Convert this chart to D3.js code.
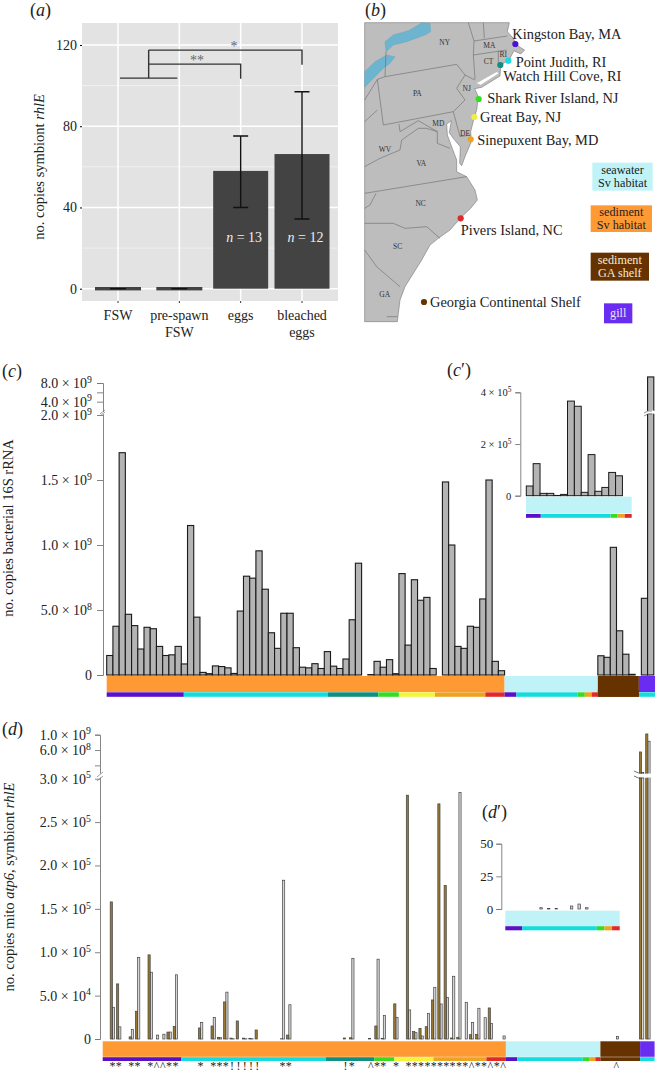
<!DOCTYPE html>
<html>
<head>
<meta charset="utf-8">
<title>Symbiont and bacterial copy numbers</title>
<script src="https://d3js.org/d3.v7.min.js"></script>
<style>
  body { margin: 0; background: #fff; }
  svg { display: block; }
  text { font-family: "Liberation Serif", serif; fill: #222; }
</style>
</head>
<body>
<script>
// panel a
var aCategories = ["FSW", "pre-spawn FSW", "eggs", "bleached eggs"];
var aMeans = [0, 0, 58, 66.3];
var aErrHigh = [0, 0, 75.2, 97];
var aErrLow = [0, 0, 40, 34.3];
var aSamples = [null, null, 13, 12];
var aTicks = [0, 40, 80, 120];
var aMinor = [20, 60, 100];

// panel b, map outlines in map units (3 units = 1px)
var mapLand = [[44,68],[478,68],[472,95],[490,115],[497,130],[510,142],[524,150],[512,162],[492,152],[478,178],[452,196],[450,228],[395,262],[374,266],[385,290],[380,330],[372,355],[362,395],[364,425],[345,470],[335,497],[329,490],[331,440],[312,418],[298,398],[304,362],[290,372],[292,405],[303,435],[320,480],[320,515],[350,530],[375,570],[382,600],[362,625],[335,650],[300,690],[265,715],[240,735],[215,780],[165,860],[150,900],[142,965],[44,965]];
var mapSliver = [[380,250],[440,216],[446,220],[392,254]];
var mapLakes = [
  [[105,125],[130,105],[175,92],[205,75],[215,68],[240,70],[242,95],[225,105],[170,125],[130,135],[108,155]],
  [[44,215],[75,185],[110,165],[135,170],[120,190],[100,205],[44,262]]
];
var mapBorders = [
  [[82,238],[105,230],[320,193],[345,225],[320,265],[345,300],[310,335],[100,375],[82,238]],
  [[105,230],[108,155]],
  [[355,68],[372,123],[370,165],[375,238]],
  [[400,68],[403,115]],
  [[372,123],[472,108]],
  [[370,165],[470,150]],
  [[445,152],[445,200]],
  [[345,225],[375,240]],
  [[82,330],[44,365]],
  [[82,238],[44,300]],
  [[147,372],[150,395],[205,362],[262,395],[262,430],[300,445]],
  [[310,335],[330,410],[362,405]],
  [[44,500],[90,475],[150,450],[155,420],[205,385],[230,385],[262,395]],
  [[44,580],[350,530]],
  [[78,580],[60,615],[44,625]],
  [[44,670],[130,670],[165,685],[230,680],[270,715]],
  [[44,750],[80,800],[150,860]],
  [[110,950],[142,950]]
];
var stateNames = ["NY","MA","CT","RI","PA","NJ","MD","DE","WV","VA","NC","SC","GA"];
var stateX = [284,418,416,460,202,350,265,345,105,214,212,143,104];
var stateY = [128,136,183,163,280,265,370,400,447,489,611,738,883];
var siteNames = ["Kingston Bay, MA","Point Judith, RI","Watch Hill Cove, RI","Shark River Island, NJ","Great Bay, NJ","Sinepuxent Bay, MD","Pivers Island, NC","Georgia Continental Shelf"];
var siteX = [496,475,451,386,373,362,332,222];
var siteY = [132,182,195,297,351,418,655,906];
var siteLabelX = [487,497,460,412,390,382,332,240];
var siteLabelY = [102,188,228,296,352,420,691,908];
var siteColors = ["#4b10d2","#1fd8e2","#0f8f80","#35dd22","#eeee44","#eea322","#dd2a2a","#663300"];
var legendLines = [["seawater","Sv habitat"],["sediment","Sv habitat"],["sediment","GA shelf"],["gill"]];
var legendX0 = [727,722,722,762];
var legendX1 = [908,906,897,847];
var legendY0 = [488,616,758,910];
var legendY1 = [572,696,842,970];
var legendFill = ["#bff3f8","#ff9933","#663300","#6a2cf0"];
var legendText = ["#222","#222","#f3e9d8","#e9e2ff"];

// panel c, 16S copies in units of 1e8
var rrna = [1.5,3.75,17.1,4.67,3.8,2.0,3.67,3.56,2.2,1.5,1.55,2.2,.85,11.5,4.45,.2,.1,.7,.65,.55,.12,4.92,7.6,7.45,9.55,6.6,3.25,2.05,4.75,4.75,2.1,.6,.55,.87,.5,1.8,.68,.5,1.23,4.25,8.6,0,.03,1.05,.6,1.18,.1,7.8,2.3,7.33,5.75,5.97,.5,0,14.85,10,2.2,2.05,3.75,3.67,5.85,15,1.05,.33,0,0,0,0,0,0,0,0,0,0,0,0,0,0,0,1.48,1.36,9.82,3.4,1.6,.05,null,5.9,93];
var cTicks = [0,5e8,1e9,1.5e9,2e9,4e9,6e9,8e9];
var cHidden = [6e9];
// inset c', units of 1e4
var rrnaInset = [3.75,12.4,.9,.9,.1,.5,36.6,34.6,1.3,15.9,1.7,3.2,9,7.7,0];
var cInsetTicks = [0,2e5,4e5];

// panel d, atp6 and rhlE copies in units of 1e4
var atp6 = [0,15.8,6.35,0,.25,3.2,0,9.7,0,0,.8,1.45,0,0,0,1.27,0,1.5,.2,4.27,.1,2.08,.1,.08,1.04,0,0,0,.03,.45,0,0,0,0,0,0,0,0,.12,.15,0,0,.05,1.5,.08,0,4.05,0,28.1,.85,1.23,1.42,4.5,27.1,17.7,.12,.2,0,.5,.54,0,3.58,0,0,0,0,0,0,0,0,0,0,0,0,0,0,0,0,0,0,0,0,0,0,0,55000,102000];
var rhle = [0,3.65,1.4,0,1.1,9.4,0,7.7,.45,.55,.8,7.4,0,0,0,1.9,0,2.5,.15,5.4,.03,0,.03,.03,0,0,0,0,18.3,3.95,0,0,0,0,0,0,0,0,0,9.3,0,0,0,9.2,2.7,0,2.5,0,3.35,.73,.35,2.96,5.96,4.04,4.77,7.23,28.4,4.23,1.92,3.54,2.46,1.8,0,.35,0,0,0,0,0,0,0,0,0,0,0,0,0,0,0,0,0,.3,0,0,0,1000,83000];
var dTicks = [0,5e4,1e5,1.5e5,2e5,2.5e5,3e5,2e8,6e8,1e9];
var dHidden = [2e8];
var starIdx = [1,2,4,5,7,10,11,15,17,18,19,28,29,39,43,44,46,48,49,50,51,52,53,54,55,56,57,59,60,62];
var caretIdx = [8,9,42,58,61,63,81];
var bangIdx = [20,21,22,23,24,38];
// inset d', plain copies
var atp6Inset = [0,0,0,0,0,0,0,0,0,0,0,0,0,0,0];
var rhleInset = [0,0,0,0,1,.3,.3,0,2.3,3.8,1,0,0,0,0];
var dInsetTicks = [0,25,50];

// colour strips, boundaries in sample index
var habitatEndsC = [64,79,85.6,88.2];
var habitatEndsD = [64,79,85.3,87.6];
var habitatColors = ["#ff9933","#bff3f8","#663300","#6a2cf0"];
var siteEndsC = [12.4,35.6,43.7,47,52.8,60.9,64,65.9,75.7,76.9,78,79,85.6,88.2];
var siteEndsD = [12.5,35.4,43.1,46.3,52.5,60.9,64,65.8,76.2,77.2,78.2,79,85.3,87.6];
var siteStripColors = ["#5a10c8","#14dcdc","#0f8f80","#35dd22","#f4f43c","#eea322","#e02a2a","#5a10c8","#14dcdc","#35dd22","#eea322","#e02a2a","#663300","#14dcdc"];
var insetEndsC = [2.1,12,13,14,15];
var insetEndsD = [2.2,12,13,14,15];
var insetColors = ["#5a10c8","#14dcdc","#35dd22","#eea322","#e02a2a"];

var svg = d3.select("body").append("svg").attr("width", 657).attr("height", 1073);

function panelLabel(x, y, letter, prime) {
  var t = svg.append("text").attr("x", x).attr("y", y).attr("font-size", 18);
  t.append("tspan").text("(");
  t.append("tspan").attr("font-style", "italic").text(letter);
  if (prime) t.append("tspan").text("\u2032");
  t.append("tspan").text(")");
}
panelLabel(30, 16, "a");
panelLabel(365, 16, "b");
panelLabel(2, 377, "c");
panelLabel(447, 376, "c", true);
panelLabel(2, 735, "d");
panelLabel(482, 818, "d", true);

function yTitle(x, y, parts) {
  var t = svg.append("text").attr("transform", "translate(" + x + "," + y + ") rotate(-90)")
    .attr("text-anchor", "middle").attr("font-size", 14.5);
  parts.forEach(function(p) {
    t.append("tspan").attr("font-style", p[1] ? "italic" : "normal").text(p[0]);
  });
}

// ---- panel a ----
var ax = d3.scalePoint().domain(aCategories).range([118, 302]);
var ay = d3.scaleLinear().domain([0, 120]).range([288.7, 45]);
var a = svg.append("g");
a.append("rect").attr("x", 82).attr("y", 23).attr("width", 256).attr("height", 278).attr("fill", "#e3e3e3");
a.selectAll(".minor").data(aMinor).enter().append("line")
  .attr("x1", 82).attr("x2", 338).attr("y1", ay).attr("y2", ay)
  .attr("stroke", "#f4f4f4").attr("stroke-width", 0.8);
a.selectAll(".major").data(aTicks).enter().append("line")
  .attr("x1", 82).attr("x2", 338).attr("y1", ay).attr("y2", ay)
  .attr("stroke", "#fff").attr("stroke-width", 1.5);
a.selectAll(".vert").data(aCategories).enter().append("line")
  .attr("x1", ax).attr("x2", ax).attr("y1", 23).attr("y2", 301)
  .attr("stroke", "#fff").attr("stroke-width", 1.5);
a.selectAll(".bar").data(aCategories).enter().append("rect")
  .attr("x", function(d, i) { return ax(d) - (aMeans[i] ? 27.5 : 23); })
  .attr("width", function(d, i) { return aMeans[i] ? 55 : 46; })
  .attr("y", function(d, i) { return ay(aMeans[i]) - (aMeans[i] ? 0 : 1.7); })
  .attr("height", function(d, i) { return aMeans[i] ? ay(0) - ay(aMeans[i]) : 3.4; })
  .attr("fill", "#434343");
a.selectAll(".err").data(aCategories).enter().append("path")
  .attr("d", function(d, i) {
    var c = ax(d);
    if (!aMeans[i]) return "M" + (c - 8) + "," + ay(0) + "H" + (c + 8);
    return "M" + (c - 7.5) + "," + ay(aErrHigh[i]) + "H" + (c + 7.5) +
      "M" + c + "," + ay(aErrHigh[i]) + "V" + ay(aErrLow[i]) +
      "M" + (c - 7.5) + "," + ay(aErrLow[i]) + "H" + (c + 7.5);
  })
  .attr("fill", "none").attr("stroke", "#111").attr("stroke-width", 1.4);
a.selectAll(".n").data(aCategories).enter().filter(function(d, i) { return aSamples[i]; })
  .append("text").attr("x", function(d, i) { return ax(d) + (i == 2 ? 1 : 3.5); }).attr("y", 242)
  .attr("text-anchor", "middle").attr("font-size", 14).style("fill", "#eee")
  .each(function(d) {
    var t = d3.select(this), k = aCategories.indexOf(d);
    t.append("tspan").attr("font-style", "italic").style("fill", "#eee").text("n");
    t.append("tspan").style("fill", "#eee").text(" = " + aSamples[k]);
  });
// comparison brackets
var mid = (ax("FSW") + ax("pre-spawn FSW")) / 2;
a.append("path").attr("d",
    "M" + (ax("FSW") + 2) + "," + ay(103.7) + "H" + (ax("pre-spawn FSW") - 2) +
    "M" + mid + "," + ay(103.7) + "V" + ay(117.5) +
    "M" + mid + "," + ay(110.6) + "H" + ax("eggs") + "V" + ay(103.4) +
    "M" + mid + "," + ay(117.5) + "H" + ax("bleached eggs") + "V" + ay(110.3))
  .attr("fill", "none").attr("stroke", "#333").attr("stroke-width", 1.4);
a.append("text").attr("x", 197).attr("y", 65).attr("text-anchor", "middle").attr("font-size", 14).style("fill", "#666").text("**");
a.append("text").attr("x", 234).attr("y", 51).attr("text-anchor", "middle").attr("font-size", 14).style("fill", "#666").text("*");
var ayAxis = d3.axisLeft(ay).tickValues(aTicks).tickSize(2).tickPadding(3);
var ayG = svg.append("g").attr("transform", "translate(82,0)").call(ayAxis);
ayG.select(".domain").remove();
ayG.selectAll("text").attr("font-size", 14).attr("font-family", "Liberation Serif");
var axLines = [["FSW"],["pre-spawn","FSW"],["eggs"],["bleached","eggs"]];
a.selectAll(".xl").data(aCategories).enter().append("g").each(function(d, i) {
  var g = d3.select(this);
  g.append("line").attr("x1", ax(d)).attr("x2", ax(d)).attr("y1", 301).attr("y2", 303).attr("stroke", "#333");
  axLines[i].forEach(function(s, k) {
    g.append("text").attr("x", ax(d)).attr("y", 320 + k * 17).attr("text-anchor", "middle").attr("font-size", 14).text(s);
  });
});
yTitle(44, 167, [["no. copies symbiont ", false], ["rhlE", true]]);

// ---- panel b ----
var mx = d3.scaleLinear().domain([0, 921]).range([350, 657]);
var my = d3.scaleLinear().domain([0, 1020]).range([0, 340]);
var mapLine = d3.line().x(function(d) { return mx(d[0]); }).y(function(d) { return my(d[1]); });
var b = svg.append("g");
b.append("path").attr("d", mapLine(mapLand) + "Z").attr("fill", "#bdbdbd").attr("stroke", "#777").attr("stroke-width", 0.6);
b.append("path").attr("d", mapLine(mapSliver) + "Z").attr("fill", "#fff");
b.selectAll(".lake").data(mapLakes).enter().append("path")
  .attr("d", function(d) { return mapLine(d) + "Z"; }).attr("fill", "#6db5cf").attr("stroke", "#6a9fb5").attr("stroke-width", 0.4);
b.selectAll(".border").data(mapBorders).enter().append("path")
  .attr("d", mapLine).attr("fill", "none").attr("stroke", "#6a6a6a").attr("stroke-width", 0.6);
b.selectAll(".state").data(stateNames).enter().append("text")
  .attr("x", function(d, i) { return mx(stateX[i]); }).attr("y", function(d, i) { return my(stateY[i]) + 2.5; })
  .attr("text-anchor", "middle").attr("font-size", 7.5).style("fill", "#333").text(function(d) { return d; });
b.selectAll(".site").data(siteNames).enter().append("circle")
  .attr("cx", function(d, i) { return mx(siteX[i]); }).attr("cy", function(d, i) { return my(siteY[i]); })
  .attr("r", 3.1).attr("fill", function(d, i) { return siteColors[i]; });
b.selectAll(".siteLabel").data(siteNames).enter().append("text")
  .attr("x", function(d, i) { return mx(siteLabelX[i]); }).attr("y", function(d, i) { return my(siteLabelY[i]) + 4.5; })
  .attr("font-size", 14.4).text(function(d) { return d; });
legendLines.forEach(function(lines, i) {
  b.append("rect").attr("x", mx(legendX0[i])).attr("y", my(legendY0[i]))
    .attr("width", mx(legendX1[i]) - mx(legendX0[i])).attr("height", my(legendY1[i]) - my(legendY0[i]))
    .attr("fill", legendFill[i]);
  var cx = (mx(legendX0[i]) + mx(legendX1[i])) / 2, cy = (my(legendY0[i]) + my(legendY1[i])) / 2;
  lines.forEach(function(s, k) {
    b.append("text").attr("x", cx).attr("y", cy + 4 + (k - (lines.length - 1) / 2) * 12.5)
      .attr("text-anchor", "middle").attr("font-size", 12.2).style("fill", legendText[i]).text(s);
  });
});

// ---- shared helpers for c and d ----
function sci(v) {
  var e = Math.floor(Math.log10(v) + 1e-9);
  return [(v / Math.pow(10, e)).toFixed(1) + " \u00d7 10", e];
}
function drawAxis(x, scale, ticks, hidden, size) {
  var g = svg.append("g").attr("transform", "translate(" + x + ",0)")
    .call(d3.axisLeft(scale).tickValues(ticks).tickSizeOuter(0).tickSize(size.tick).tickPadding(size.pad).tickFormat(""));
  g.selectAll(".domain,.tick line").attr("stroke", "#777").attr("stroke-width", 0.9);
  g.selectAll(".tick").each(function(d) {
    if (hidden.indexOf(d) >= 0) return;
    var t = d3.select(this).select("text").attr("font-size", size.font).attr("font-family", "Liberation Serif").attr("fill", "#222");
    if (d == 0 || size.plain) { t.text(d3.format("d")(d)); return; }
    var s = size.short ? [(d / Math.pow(10, Math.floor(Math.log10(d)))) + " \u00d7 10", Math.floor(Math.log10(d))] : sci(d);
    t.append("tspan").text(s[0]);
    t.append("tspan").attr("dy", -size.font * 0.38).attr("font-size", size.font * 0.7).text(s[1]);
  });
  return g;
}
function strip(x, ends, colors, y0, y1) {
  svg.append("g").selectAll("rect").data(ends).enter().append("rect")
    .attr("x", function(d, i) { return x(i ? ends[i - 1] : 0); })
    .attr("width", function(d, i) { return x(d) - x(i ? ends[i - 1] : 0); })
    .attr("y", y0).attr("height", y1 - y0)
    .attr("fill", function(d, i) { return colors[i]; });
}

// ---- panel c ----
var cx = d3.scaleLinear().domain([0, 88]).range([106.7, 653.8]);
var cy = d3.scaleLinear().domain([0, 2e9, 2.001e9, 8e9]).range([675, 415, 411, 383]);
var cBars = svg.append("g");
rrna.forEach(function(v, i) {
  if (v === null) return;
  cBars.append("rect").attr("x", cx(i)).attr("width", cx(i + 1) - cx(i))
    .attr("y", cy(v * 1e8)).attr("height", cy(0) - cy(v * 1e8))
    .attr("fill", "#b4b4b4").attr("stroke", "#1a1a1a").attr("stroke-width", 1.1);
});
strip(cx, habitatEndsC, habitatColors, 676, 692);
strip(cx, siteEndsC, siteStripColors, 692.3, 696.8);
svg.append("rect").attr("x", cx(79)).attr("y", 690).attr("width", cx(85.6) - cx(79)).attr("height", 6.8).attr("fill", "#663300");
drawAxis(103, cy, cTicks, cHidden, { tick: 6, pad: 5, font: 14 });
// axis break
svg.append("rect").attr("x", 100).attr("y", 412).attr("width", 6).attr("height", 2.2).attr("fill", "#fff");
svg.append("path").attr("d", "M100,414L105,410M100,416L105,412").attr("stroke", "#777").attr("stroke-width", 0.7).attr("fill", "none");
// bar break on the tall gill bar
svg.append("path").attr("d", "M643,413Q649,409 655,411L655,414Q649,412 643,416Z").attr("fill", "#fff");
svg.append("path").attr("d", "M644,413Q648,410 652,411M644,416Q648,413 652,414").attr("stroke", "#444").attr("stroke-width", 0.6).attr("fill", "none");
yTitle(13, 528, [["no. copies bacterial 16S rRNA", false]]);

// inset c'
var cix = d3.scaleLinear().domain([0, 15]).range([526.3, 629.3]);
var ciy = d3.scaleLinear().domain([0, 4e5]).range([495.7, 392.3]);
var ciBars = svg.append("g");
rrnaInset.forEach(function(v, i) {
  ciBars.append("rect").attr("x", cix(i)).attr("width", cix(i + 1) - cix(i))
    .attr("y", ciy(v * 1e4)).attr("height", ciy(0) - ciy(v * 1e4))
    .attr("fill", "#b4b4b4").attr("stroke", "#1a1a1a").attr("stroke-width", 1);
});
var cixS = d3.scaleLinear().domain([0, 15]).range([526, 631.7]);
strip(cixS, [15], ["#bff3f8"], 496.7, 513.5);
strip(cixS, insetEndsC, insetColors, 514, 517.8);
drawAxis(520.3, ciy, cInsetTicks, [], { tick: 5, pad: 4, font: 10.5, short: true });

// ---- panel d ----
var dx = d3.scaleLinear().domain([0, 88]).range([102.7, 657.1]);
var dy = d3.scaleLinear().domain([0, 3e5, 3.001e5, 1e9]).range([1039, 778.7, 773, 734.7]);
var dBars = svg.append("g");
function pair(g, x, y, i, v1, v2, unit, w0, w1, sw) {
  var l = x(i);
  g.append("rect").attr("x", l + w0).attr("width", w1).attr("y", y(v2 * unit)).attr("height", y(0) - y(v2 * unit))
    .attr("fill", "#d6d6d6").attr("stroke", "#444").attr("stroke-width", sw);
  g.append("rect").attr("x", l + w0 - w1).attr("width", w1).attr("y", y(v1 * unit)).attr("height", y(0) - y(v1 * unit))
    .attr("fill", "#98782f").attr("stroke", "#444").attr("stroke-width", sw);
}
atp6.forEach(function(v, i) { pair(dBars, dx, dy, i, v, rhle[i], 1e4, 3.4, 2.2, 0.7); });
strip(dx, habitatEndsD, habitatColors, 1041.3, 1056.8);
strip(dx, siteEndsD, siteStripColors, 1057.2, 1061);
drawAxis(100, dy, dTicks, dHidden, { tick: 5, pad: 4, font: 14 });
// axis and bar breaks
svg.append("rect").attr("x", 97).attr("y", 773.5).attr("width", 6).attr("height", 4).attr("fill", "#fff");
svg.append("path").attr("d", "M97,777L103,772M97,781L103,776").attr("stroke", "#777").attr("stroke-width", 0.7).attr("fill", "none");
svg.append("path").attr("d", "M634,772Q640,775 657,773L657,777Q640,779 634,776Z").attr("fill", "#fff");
svg.append("path").attr("d", "M634,771Q638,774 644,773M634,776Q638,779 644,778").attr("stroke", "#333").attr("stroke-width", 0.7).attr("fill", "none");
var markG = svg.append("g").attr("text-anchor", "middle");
function marks(list, ch, size, yy) {
  list.forEach(function(i) {
    markG.append("text").attr("x", dx(i) + 3.4).attr("y", yy).attr("font-size", size).text(ch);
  });
}
marks(starIdx, "*", 12, 1070);
marks(caretIdx, "^", 12, 1070);
marks(bangIdx, "!", 12, 1070);
yTitle(14, 887, [["no. copies mito ", false], ["atp6", true], [", symbiont ", false], ["rhlE", true]]);

// inset d'
var dix = d3.scaleLinear().domain([0, 15]).range([505.3, 619.7]);
var diy = d3.scaleLinear().domain([0, 50]).range([909, 843.7]);
var diBars = svg.append("g");
atp6Inset.forEach(function(v, i) { pair(diBars, dix, diy, i, v, rhleInset[i], 1, 4, 2.5, 0.7); });
strip(dix, [15], ["#bff3f8"], 910.7, 926);
strip(dix, insetEndsD, insetColors, 926.2, 930.3);
drawAxis(501.3, diy, dInsetTicks, [], { tick: 5, pad: 3, font: 13, plain: true });
</script>
</body>
</html>
